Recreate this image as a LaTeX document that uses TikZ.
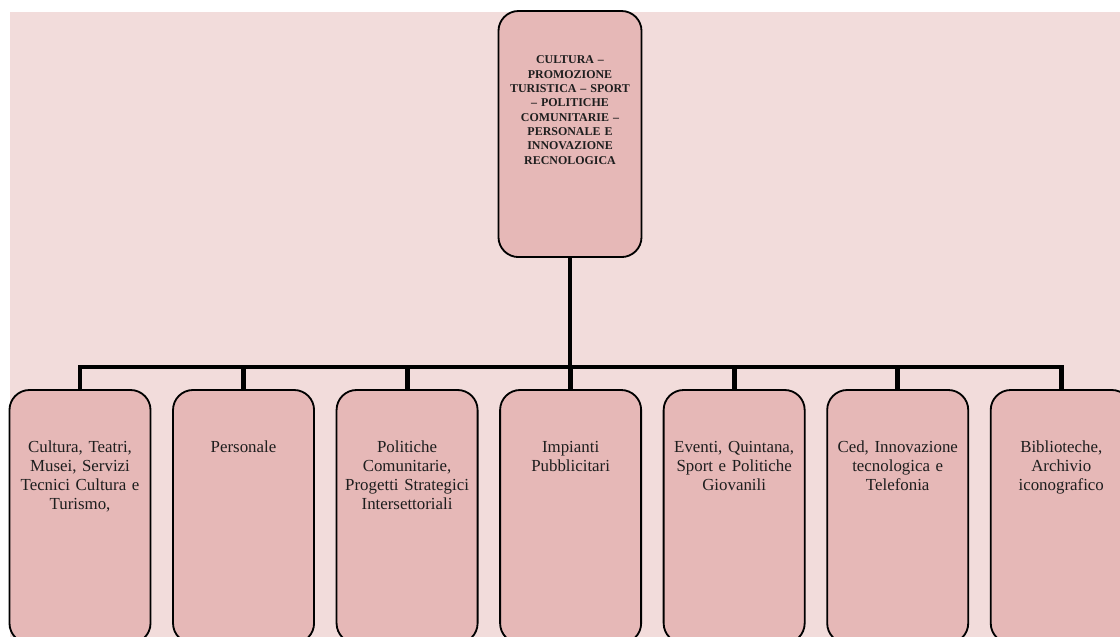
\documentclass[tikz,border=0pt]{standalone}
\usepackage{fontspec}
\setmainfont{Liberation Serif}
\usepackage{tikz}
\usepackage{xcolor}
\usetikzlibrary{positioning}
\definecolor{bgpink}{RGB}{242,220,219}
\definecolor{boxpink}{RGB}{230,184,183}
\definecolor{txt}{RGB}{30,30,30}

\begin{document}
\begin{tikzpicture}
  [x=0.025cm,y=-0.025cm,node distance=0.5625cm,
   box/.style={draw,line width=1.3pt,rounded corners=0.5cm,fill=boxpink,inner sep=0pt,outer sep=0pt},
   unit/.style={box,anchor=north,minimum width=3.525cm,minimum height=6.33cm,
     label={[anchor=north,yshift=-1.15cm,text width=3.4cm,align=center,text=txt,font=\fontsize{12}{13.5}\selectfont]north:#1}},
   head/.style={box,anchor=north,minimum width=3.575cm,minimum height=6.15cm,
     label={[anchor=north,yshift=-1.0cm,text width=3.4cm,align=center,text=txt,font=\fontsize{8.5}{10.2}\selectfont\bfseries]north:#1}},
   conn/.style={line width=3.5pt,line join=miter}]
  \useasboundingbox (0,0) rectangle (1120,637);
  \clip (0,0) rectangle (1120,637);
  \fill[bgpink] (10,12) rectangle (1120,637);

  \node[head={CULTURA –\\PROMOZIONE\\TURISTICA – SPORT\\– POLITICHE\\COMUNITARIE –\\PERSONALE E\\INNOVAZIONE\\RECNOLOGICA}] (top) at (570,11) {};

  \node[unit={Cultura, Teatri,\\Musei, Servizi\\Tecnici Cultura e\\Turismo,}] (u1) at (80,390) {};
  \node[unit={Personale},right=of u1] (u2) {};
  \node[unit={Politiche\\Comunitarie,\\Progetti Strategici\\Intersettoriali},right=of u2] (u3) {};
  \node[unit={Impianti\\Pubblicitari},right=of u3] (u4) {};
  \node[unit={Eventi, Quintana,\\Sport e Politiche\\Giovanili},right=of u4] (u5) {};
  \node[unit={Ced, Innovazione\\tecnologica e\\Telefonia},right=of u5] (u6) {};
  \node[unit={Biblioteche,\\Archivio\\iconografico},right=of u6] (u7) {};

  \coordinate (bar) at (570,367);
  \draw[conn] (top.south) -- (bar);
  \foreach \u in {u1,u2,u3,u4,u5,u6,u7}
    \draw[conn] (bar) -| (\u.north);

\end{tikzpicture}
\end{document}
